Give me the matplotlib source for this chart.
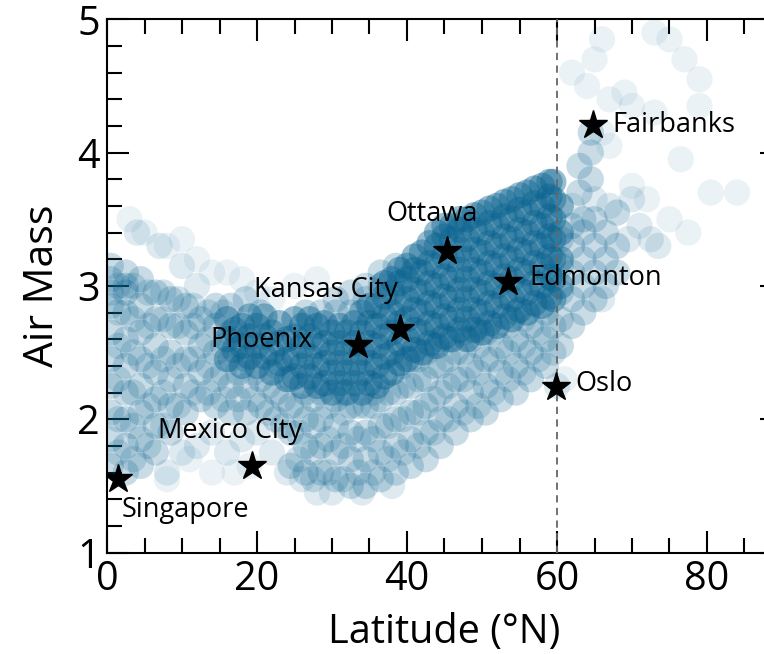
import numpy as np
import matplotlib
matplotlib.use('Agg')
import matplotlib.pyplot as plt

plt.rcParams['font.family'] = ['Open Sans', 'DejaVu Sans']

# Nube de puntos, leida a ojo de la figura: cada latitud con sus masas de aire
# zona mas densa (banda de Phoenix y banda principal 40-60 N)
nucleo_lat = [16, 18, 20, 22, 24, 26, 28, 30, 32, 34, 36, 38, 40, 42, 44,
              46, 48, 50, 52, 54, 56, 58, 59.5]
nucleo_am = [
    [2.45, 2.6, 2.75],
    [2.4, 2.55, 2.7],
    [2.4, 2.55, 2.7],
    [2.35, 2.5, 2.65],
    [2.3, 2.45, 2.6],
    [2.25, 2.4, 2.55, 2.7],
    [2.25, 2.4, 2.55, 2.7],
    [2.2, 2.35, 2.5, 2.65],
    [2.2, 2.35, 2.5, 2.65],
    [2.2, 2.35, 2.5, 2.65, 2.8],
    [2.25, 2.4, 2.55, 2.7, 2.85],
    [2.35, 2.5, 2.65, 2.8, 2.95, 3.05],
    [2.45, 2.6, 2.75, 2.9, 3.05, 3.15],
    [2.5, 2.65, 2.8, 2.95, 3.1, 3.25],
    [2.55, 2.7, 2.85, 3.0, 3.15, 3.3, 3.4],
    [2.6, 2.75, 2.9, 3.05, 3.2, 3.35, 3.45],
    [2.6, 2.75, 2.9, 3.05, 3.2, 3.35, 3.5],
    [2.65, 2.8, 2.95, 3.1, 3.25, 3.4, 3.55],
    [2.7, 2.85, 3.0, 3.15, 3.3, 3.45, 3.6],
    [2.75, 2.9, 3.05, 3.2, 3.35, 3.5, 3.65],
    [2.8, 2.95, 3.1, 3.25, 3.4, 3.55, 3.7],
    [2.85, 3.0, 3.15, 3.3, 3.45, 3.6, 3.75],
    [2.9, 3.05, 3.2, 3.35, 3.5, 3.65, 3.78],
]

# segunda capa densa, intercalada
nucleo2_lat = [17, 19, 21, 23, 25, 27, 29, 31, 33, 35, 37, 39, 41, 43, 45,
               47, 49, 51, 53, 55, 57, 59, 60.5]
nucleo2_am = [
    [2.52, 2.67],
    [2.47, 2.62, 2.77],
    [2.47, 2.62, 2.77],
    [2.42, 2.57, 2.72],
    [2.32, 2.47, 2.62, 2.75],
    [2.32, 2.47, 2.62, 2.75],
    [2.27, 2.42, 2.57, 2.72],
    [2.27, 2.42, 2.57, 2.7],
    [2.27, 2.42, 2.57, 2.72],
    [2.27, 2.42, 2.57, 2.72, 2.85],
    [2.32, 2.47, 2.62, 2.77, 2.92, 3.02],
    [2.42, 2.57, 2.72, 2.87, 3.02, 3.12],
    [2.52, 2.67, 2.82, 2.97, 3.12, 3.22],
    [2.57, 2.72, 2.87, 3.02, 3.17, 3.32],
    [2.62, 2.77, 2.92, 3.07, 3.22, 3.37, 3.45],
    [2.67, 2.82, 2.97, 3.12, 3.27, 3.42, 3.5],
    [2.67, 2.82, 2.97, 3.12, 3.27, 3.42, 3.53],
    [2.72, 2.87, 3.02, 3.17, 3.32, 3.47, 3.58],
    [2.77, 2.92, 3.07, 3.22, 3.37, 3.52, 3.63],
    [2.82, 2.97, 3.12, 3.27, 3.42, 3.57, 3.68],
    [2.87, 3.02, 3.17, 3.32, 3.47, 3.62, 3.73],
    [2.92, 3.07, 3.22, 3.37, 3.52, 3.67, 3.78],
    [3.0, 3.2, 3.4, 3.6],
]

# zona de densidad media
medio_lat = [0.5, 2.5, 4.5, 6.5, 8.5, 10.5, 12.5, 14.5, 16.5, 18.5, 20.5,
             22.5, 24.5, 26.5, 28.5, 30.5, 32.5, 34.5, 36.5, 38.5, 40.5,
             42.5, 44.5, 46.5, 48.5, 50.5, 52.5, 54.5, 56.5, 58.5, 60.5,
             62, 63.5, 65, 66.5, 68, 63, 64.5]
medio_am = [
    [1.65, 1.85, 2.05, 2.25, 2.45, 2.65, 2.85, 2.95, 3.05, 3.15],
    [1.6, 1.8, 2.0, 2.2, 2.4, 2.6, 2.8, 2.95, 3.0, 3.1],
    [1.65, 1.85, 2.05, 2.25, 2.45, 2.65, 2.85, 3.05],
    [1.75, 1.95, 2.15, 2.35, 2.55, 2.75, 2.95],
    [1.9, 2.1, 2.3, 2.5, 2.7, 2.9],
    [2.05, 2.25, 2.45, 2.65, 2.85],
    [2.15, 2.35, 2.55, 2.75],
    [2.1, 2.3, 2.5, 2.7, 2.85],
    [2.05, 2.25, 2.45, 2.65, 2.85],
    [2.05, 2.25, 2.45, 2.9],
    [2.1, 2.3, 2.8],
    [2.0, 2.2, 2.4],
    [1.65, 1.9, 2.1, 2.3],
    [1.6, 1.8, 2.0, 2.2, 2.8],
    [1.6, 1.8, 2.0, 2.2, 2.8],
    [1.55, 1.75, 1.95, 2.15, 2.8, 2.9],
    [1.5, 1.7, 1.9, 2.1, 2.8, 2.95],
    [1.5, 1.7, 1.9, 2.1, 2.9, 3.0],
    [1.55, 1.75, 1.95, 2.15, 3.0, 3.1],
    [1.6, 1.8, 2.0, 2.2, 3.15],
    [1.65, 1.85, 2.05, 2.25, 2.45],
    [1.7, 1.9, 2.1, 2.3, 2.5],
    [1.8, 2.0, 2.2, 2.4, 2.6],
    [1.9, 2.1, 2.3, 2.5],
    [2.0, 2.2, 2.4, 2.6],
    [2.05, 2.25, 2.45, 2.65],
    [2.15, 2.35, 2.55],
    [2.2, 2.4, 2.6, 2.8],
    [2.3, 2.5, 2.7],
    [2.4, 2.6, 2.8],
    [2.55, 2.75, 2.95, 3.15, 3.35],
    [2.7, 2.9, 3.1, 3.3, 3.45],
    [2.8, 3.0, 3.2, 3.4, 3.5],
    [2.9, 3.1, 3.3, 3.5],
    [3.0, 3.2, 3.4],
    [3.1, 3.3, 3.55],
    [3.7, 3.9],
    [3.8, 4.0, 4.15],
]

# segunda capa media, intercalada entre las columnas anteriores
medio2_lat = [1.5, 3.5, 5.5, 7.5, 9.5, 11.5, 13.5, 15.5, 17.5, 19.5, 21.5,
              23.5, 25.5, 27.5, 29.5, 31.5, 33.5, 35.5, 37.5, 39.5, 41.5,
              43.5, 45.5, 47.5, 49.5, 51.5, 53.5, 55.5, 57.5, 59.5]
medio2_am = [
    [1.75, 2.0, 2.3, 2.55, 2.8, 3.0],
    [1.7, 1.95, 2.2, 2.5, 2.75, 3.0],
    [1.8, 2.1, 2.4, 2.7, 2.95],
    [1.95, 2.2, 2.45, 2.75, 2.95],
    [2.1, 2.4, 2.7, 2.9],
    [2.2, 2.45, 2.7, 2.85],
    [2.2, 2.4, 2.6, 2.8],
    [2.15, 2.35, 2.55, 2.8],
    [2.15, 2.35, 2.6],
    [2.15, 2.35],
    [2.05, 2.25],
    [1.95, 2.15],
    [1.7, 1.9, 2.1],
    [1.55, 1.75, 1.95, 2.15],
    [1.6, 1.85, 2.1],
    [1.55, 1.8, 2.05, 2.2],
    [1.6, 1.85, 2.1],
    [1.6, 1.85, 2.1, 2.2],
    [1.7, 1.95, 2.2],
    [1.75, 2.0, 2.25, 2.4],
    [1.8, 2.05, 2.3, 2.45],
    [1.9, 2.15, 2.4, 2.55],
    [2.0, 2.25, 2.45, 2.6],
    [2.05, 2.3, 2.5, 2.65],
    [2.1, 2.35, 2.55, 2.7],
    [2.2, 2.45, 2.65],
    [2.3, 2.5, 2.7],
    [2.35, 2.55, 2.75],
    [2.45, 2.65, 2.85],
    [2.5, 2.7],
]

# zona clara (bordes de la nube)
claro = [
    (22, 1.75), (24, 1.6), (26, 1.55), (28, 1.45), (30, 1.45), (34, 1.45), (38, 1.5),
    (62, 3.6), (65, 3.65), (67, 3.6), (69.5, 3.35), (71, 3.45), (72.5, 3.35),
    (70, 3.65), (73.5, 3.3), (66, 2.9), (60, 2.25),
    (8, 1.6), (10, 1.75), (12, 1.8), (14, 1.9), (16, 1.75), (18, 1.85), (20, 1.9),
    (4, 3.4), (7, 3.3), (10, 3.15), (12, 3.0),
]

# puntos sueltos muy tenues
tenue = [
    (3, 3.5), (5, 3.4), (8, 3.3), (10, 3.35), (12, 3.2), (14, 3.1), (16, 3.1),
    (18, 3.05), (20, 2.95), (22, 2.9), (25, 3.0), (28, 3.05),
    (11, 1.7), (14, 1.6), (17, 1.6), (19, 1.65), (8, 1.55), (61, 2.3),
    (64, 4.5), (65, 4.7), (66, 4.85), (67, 4.4), (69, 4.45), (70, 4.35),
    (73, 4.9), (75, 4.85), (77, 4.7), (79, 4.55), (79, 4.35), (73, 4.3),
    (76.5, 3.95), (80.5, 3.7), (72, 3.65), (77.5, 3.4), (84, 3.7),
    (67, 4.05), (75, 3.5), (70, 3.75), (62, 4.6), (66, 4.15),
]

# Ciudades marcadas con estrella
ciudades = ['Singapore', 'Mexico City', 'Phoenix', 'Kansas City',
            'Ottawa', 'Edmonton', 'Oslo', 'Fairbanks']
lat_ciudades = [1.4, 19.4, 33.4, 39.1, 45.4, 53.5, 59.9, 64.8]
am_ciudades = [1.55, 1.65, 2.56, 2.68, 3.26, 3.03, 2.24, 4.21]


def columnas(lats, ams):
    xs, ys = [], []
    for la, lista in zip(lats, ams):
        for a in lista:
            xs.append(la)
            ys.append(a)
    return np.array(xs), np.array(ys)


color = '#0a6390'

fig = plt.figure(figsize=(7.64, 6.54), dpi=100)
ax = fig.add_axes([107 / 764, 1 - 552.5 / 654, 90 * 7.5 / 764, 533.2 / 654])

x_t, y_t = np.array(tenue).T
x_c, y_c = np.array(claro).T
x_m, y_m = columnas(medio_lat, medio_am)
x_m2, y_m2 = columnas(medio2_lat, medio2_am)
x_n, y_n = columnas(nucleo_lat, nucleo_am)
x_n2, y_n2 = columnas(nucleo2_lat, nucleo2_am)
capas = [(x_t, y_t, 0.08), (x_c, y_c, 0.13), (x_m, y_m, 0.22),
         (x_m2, y_m2, 0.18), (x_n, y_n, 0.42), (x_n2, y_n2, 0.42)]
for xs, ys, alfa in capas:
    ax.scatter(xs, ys, s=360, color=color, alpha=alfa,
               edgecolors='none', zorder=2)

ax.axvline(60, color='#666666', ls=(0, (4, 3)), lw=1.3, zorder=3)

ax.plot(lat_ciudades, am_ciudades, ls='none', marker='*', ms=21,
        color='black', zorder=5)

# Posicion de cada etiqueta (desplazamiento en puntos respecto a la estrella)
desplaz = {
    'Singapore': (3, -22),
    'Mexico City': (-68, 25),
    'Phoenix': (-106, 3),
    'Kansas City': (-105, 28),
    'Ottawa': (-44, 27),
    'Edmonton': (15, 3),
    'Oslo': (14, 2),
    'Fairbanks': (14, 0),
}
for nombre, x, y in zip(ciudades, lat_ciudades, am_ciudades):
    dx, dy = desplaz[nombre]
    ax.annotate(nombre, (x, y), xytext=(dx, dy), textcoords='offset points',
                ha='left', va='center', fontsize=19.5, zorder=6)

ax.set_xlim(0, 90)
ax.set_ylim(1, 5)
ax.set_xticks([0, 20, 40, 60, 80])
ax.set_yticks([1, 2, 3, 4, 5])
ax.set_xticks(np.arange(0, 91, 5), minor=True)
ax.set_yticks(np.arange(1, 5.01, 0.2), minor=True)
ax.tick_params(which='both', direction='in', top=True, right=True,
               width=1.5, labelsize=28.5)
ax.tick_params(which='major', length=16)
ax.tick_params(which='minor', length=10.5)
ax.tick_params(axis='x', pad=5)
ax.tick_params(axis='y', pad=5)
for lado in ['left', 'bottom', 'top', 'right']:
    ax.spines[lado].set_linewidth(1.5)

ax.set_xlabel('Latitude (°N)', fontsize=28.5, labelpad=9)
ax.set_ylabel('Air Mass', fontsize=29.5, labelpad=10)

fig.savefig('out.png', dpi=100)
